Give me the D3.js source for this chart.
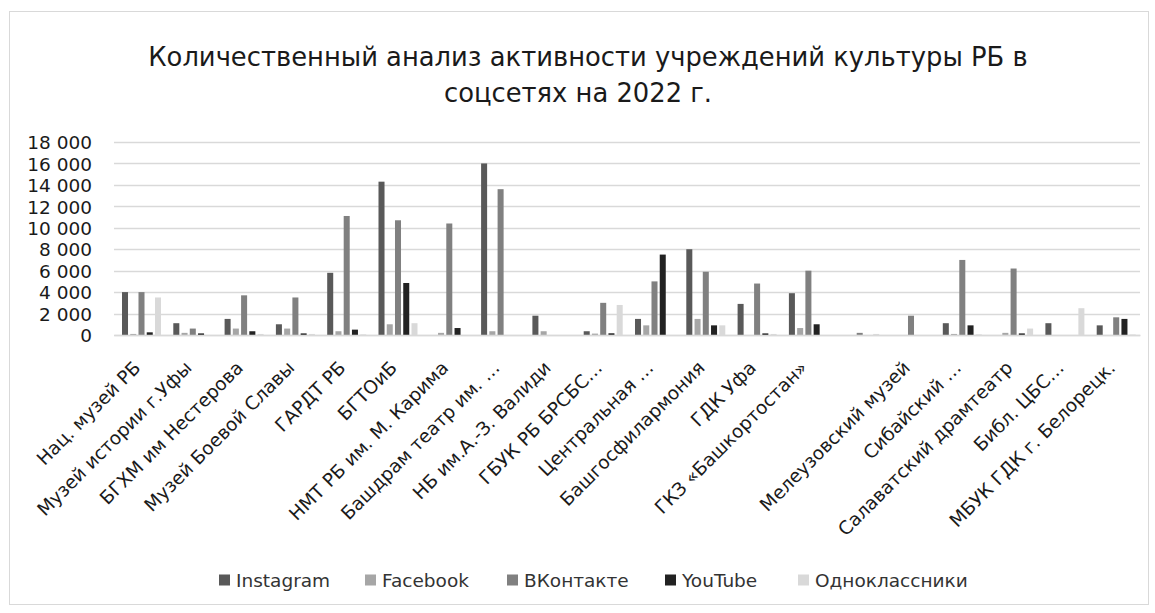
<!DOCTYPE html>
<html><head><meta charset="utf-8">
<script src="https://cdn.jsdelivr.net/npm/d3@7"></script>
<style>
body{margin:0;background:#fff;}
svg{display:block;}
text{font-family:"DejaVu Sans",sans-serif;}
</style></head>
<body>
<svg id="c" width="1155" height="613"></svg>
<script>
const categories = ["Нац. музей РБ","Музей истории г.Уфы","БГХМ им Нестерова","Музей Боевой Славы","ГАРДТ РБ","БГТОиБ","НМТ РБ им. М. Карима","Башдрам театр  им. …","НБ им.А.-З. Валиди","ГБУК РБ БРСБС…","Центральная …","Башгосфилармония","ГДК Уфа","ГКЗ «Башкортостан»"," ","Мелеузовский музей","Сибайский …","Салаватский драмтеатр","Библ. ЦБС…","МБУК ГДК г. Белорецк."];
const seriesNames = ["Instagram","Facebook","ВКонтакте","YouTube","Одноклассники"];
const instagram = [4000,1100,1500,1000,5800,14300,0,16000,1800,350,1500,8000,2900,3900,0,0,1100,0,1100,900];
const facebook  = [100,200,600,600,350,1000,200,350,350,130,900,1500,0,650,0,0,100,200,0,0];
const vkontakte = [4000,600,3700,3500,11100,10700,10400,13600,0,3000,5000,5900,4800,6000,200,1800,7000,6200,0,1650];
const youtube   = [250,150,350,150,500,4850,650,0,0,160,7500,900,150,1000,0,0,900,150,0,1500];
const odnoklassniki = [3500,0,100,100,60,1100,0,0,0,2800,0,900,100,0,100,0,60,600,2500,50];
const yTicks = [0,2000,4000,6000,8000,10000,12000,14000,16000,18000];
const titleLines = ["Количественный анализ активности учреждений культуры РБ в","соцсетях на 2022 г."];
const colors = ["#595959","#a6a6a6","#808080","#222222","#d9d9d9"];

const seriesValues = [instagram, facebook, vkontakte, youtube, odnoklassniki];
const svg = d3.select("#c");

svg.append("rect").attr("x",9.5).attr("y",11.5).attr("width",1139).attr("height",593)
  .attr("fill","#fff").attr("stroke","#d9d9d9").attr("stroke-width",1);

const pL=114, pR=1140, pT=142, pB=335;
const x0 = d3.scaleBand().domain(categories.map((c,i)=>i)).range([pL,pR]).padding(0);
const x1 = d3.scaleBand().domain(seriesNames).range([8,47]).paddingInner(0.27).paddingOuter(0);
const y = d3.scaleLinear().domain([0,18000]).range([pB,pT]);

const loc = d3.formatLocale({decimal:",",thousands:"\u00a0",grouping:[3],currency:["",""]});
const fmt = loc.format(",");

// gridlines
svg.append("g").selectAll("line").data(yTicks).join("line")
  .attr("x1",pL).attr("x2",pR)
  .attr("y1",d=>Math.round(y(d))+0.5).attr("y2",d=>Math.round(y(d))+0.5)
  .attr("stroke","#d9d9d9").attr("stroke-width",1.5);

// y axis
const yAxis = d3.axisLeft(y).tickValues(yTicks).tickFormat(fmt).tickSize(0).tickPadding(0);
const gy = svg.append("g").attr("transform",`translate(92,0)`).call(yAxis);
gy.select(".domain").remove();
gy.selectAll("text").attr("font-size",18.5).attr("font-family","DejaVu Sans").attr("fill","#1a1a1a").attr("dy","0.36em");

// bars
const groups = svg.append("g").selectAll("g").data(categories.map((c,i)=>i)).join("g")
  .attr("transform",i=>`translate(${x0(i)},0)`);
groups.selectAll("rect").data(i=>seriesNames.map((s,k)=>({s,k,v:seriesValues[k][i]}))).join("rect")
  .attr("x",d=>x1(d.s)).attr("width",x1.bandwidth())
  .attr("y",d=>y(d.v)).attr("height",d=>pB-y(d.v))
  .attr("fill",d=>colors[d.k]);

// x axis labels
const xAxis = d3.axisBottom(x0).tickFormat(i=>categories[i]).tickSize(0).tickPadding(0);
const gx = svg.append("g").attr("transform",`translate(0,${pB})`).call(xAxis);
gx.select(".domain").attr("stroke","#d9d9d9").attr("stroke-width",1.5);
gx.selectAll("text").attr("font-size",18.5).attr("font-family","DejaVu Sans").attr("fill","#1a1a1a")
  .attr("text-anchor","end").attr("dy",null)
  .attr("transform","translate(2,34) rotate(-45)");

// title
const tt = svg.append("g").selectAll("text").data(titleLines).join("text")
  .attr("x",(d,i)=>i===0?588:578).attr("y",(d,i)=>66+i*36).attr("text-anchor","middle")
  .attr("font-size",26).attr("fill","#1a1a1a").text(d=>d);
const w0 = tt.node().getComputedTextLength();
tt.attr("font-size",26*880/w0);

// legend
const legendX = [219,365,507,665,798];
const lg = svg.append("g").selectAll("g").data(seriesNames).join("g")
  .attr("transform",(d,i)=>`translate(${legendX[i]},580)`);
lg.append("rect").attr("x",0).attr("y",-5.5).attr("width",11).attr("height",11).attr("fill",(d,i)=>colors[i]);
lg.append("text").attr("x",17).attr("y",0).attr("dy","0.36em").attr("font-size",18.5).attr("fill","#333").text(d=>d);
</script>
</body></html>
